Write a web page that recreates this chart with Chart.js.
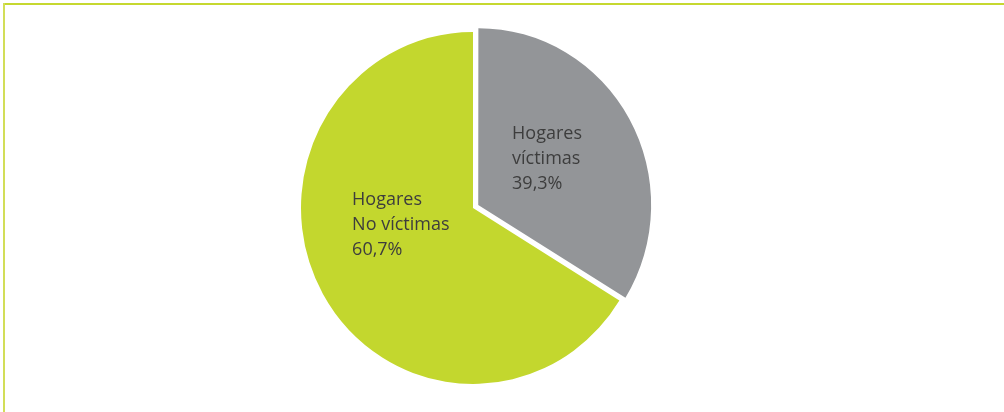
<!DOCTYPE html>
<html><head><meta charset="utf-8">
<script src="https://cdn.jsdelivr.net/npm/chart.js@4/dist/chart.umd.min.js"></script>
<style>html,body{margin:0;padding:0;background:#fff;overflow:hidden}canvas{display:block}</style>
</head><body>
<canvas id="c" width="1004" height="412"></canvas>
<script>
// Categories, in clockwise order from 12 o'clock
const categories = ['Hogares víctimas', 'Hogares No víctimas'];
// Label text lines shown inside each slice
const labelLines = [['Hogares', 'víctimas'], ['Hogares', 'No víctimas']];
// Printed percentages
const percentLabels = ['39,3%', '60,7%'];
// Slice shares as drawn in the reference (angle of the grey slice ≈ 122°)
const sliceShares = [33.8, 66.2];

const sliceColors = ['#939598', '#c3d72e'];

const framePlugin = {
  id: 'frame',
  beforeDraw(chart) {
    const ctx = chart.ctx;
    ctx.save();
    ctx.fillStyle = '#c6d830';
    ctx.fillRect(3, 3, chart.width - 3, 2);
    ctx.fillStyle = '#d2de58';
    ctx.fillRect(3, 3, 2, chart.height - 3);
    ctx.restore();
  }
};

// The reference pie is very slightly taller than wide
const stretchPlugin = {
  id: 'stretch',
  beforeDatasetsDraw(chart, args, opts) {
    const ca = chart.chartArea;
    const cx = (ca.left + ca.right) / 2, cy = (ca.top + ca.bottom) / 2;
    const ctx = chart.ctx;
    ctx.save();
    ctx.translate(cx, cy);
    ctx.scale(1, opts.scaleY);
    ctx.translate(-cx, -cy);
  },
  afterDatasetsDraw(chart) {
    chart.ctx.restore();
  }
};

const sliceLabelPlugin = {
  id: 'sliceLabels',
  afterDatasetsDraw(chart, args, opts) {
    const ctx = chart.ctx;
    const meta = chart.getDatasetMeta(0);
    const ca = chart.chartArea;
    const cx = (ca.left + ca.right) / 2, cy = (ca.top + ca.bottom) / 2;
    ctx.save();
    ctx.font = opts.font;
    ctx.fillStyle = opts.color;
    ctx.textAlign = 'left';
    ctx.textBaseline = 'alphabetic';
    meta.data.forEach((arc, i) => {
      const r = arc.outerRadius;
      const a = opts.anchors[i];
      const x = cx + a[0] * r, y = cy + a[1] * r;
      const lines = labelLines[i].concat([percentLabels[i]]);
      lines.forEach((t, k) => ctx.fillText(t, x, y + k * opts.lineHeight));
    });
    ctx.restore();
  }
};

new Chart(document.getElementById('c'), {
  type: 'pie',
  data: {
    labels: categories,
    datasets: [{
      data: sliceShares,
      backgroundColor: sliceColors,
      borderWidth: 0,
      offset: [24, 0]
    }]
  },
  options: {
    responsive: false,
    animation: false,
    radius: 172,
    layout: { padding: { left: 0, right: 58, top: 4, bottom: 0 } },
    plugins: {
      legend: { display: false },
      tooltip: { enabled: false },
      stretch: { scaleY: 1.023 },
      sliceLabels: {
        font: '18px "Open Sans", sans-serif',
        color: '#3d3d3d',
        lineHeight: 25,
        anchors: [[0.227, -0.401], [-0.703, -0.017]]
      }
    }
  },
  plugins: [framePlugin, stretchPlugin, sliceLabelPlugin]
});
</script>
</body></html>
